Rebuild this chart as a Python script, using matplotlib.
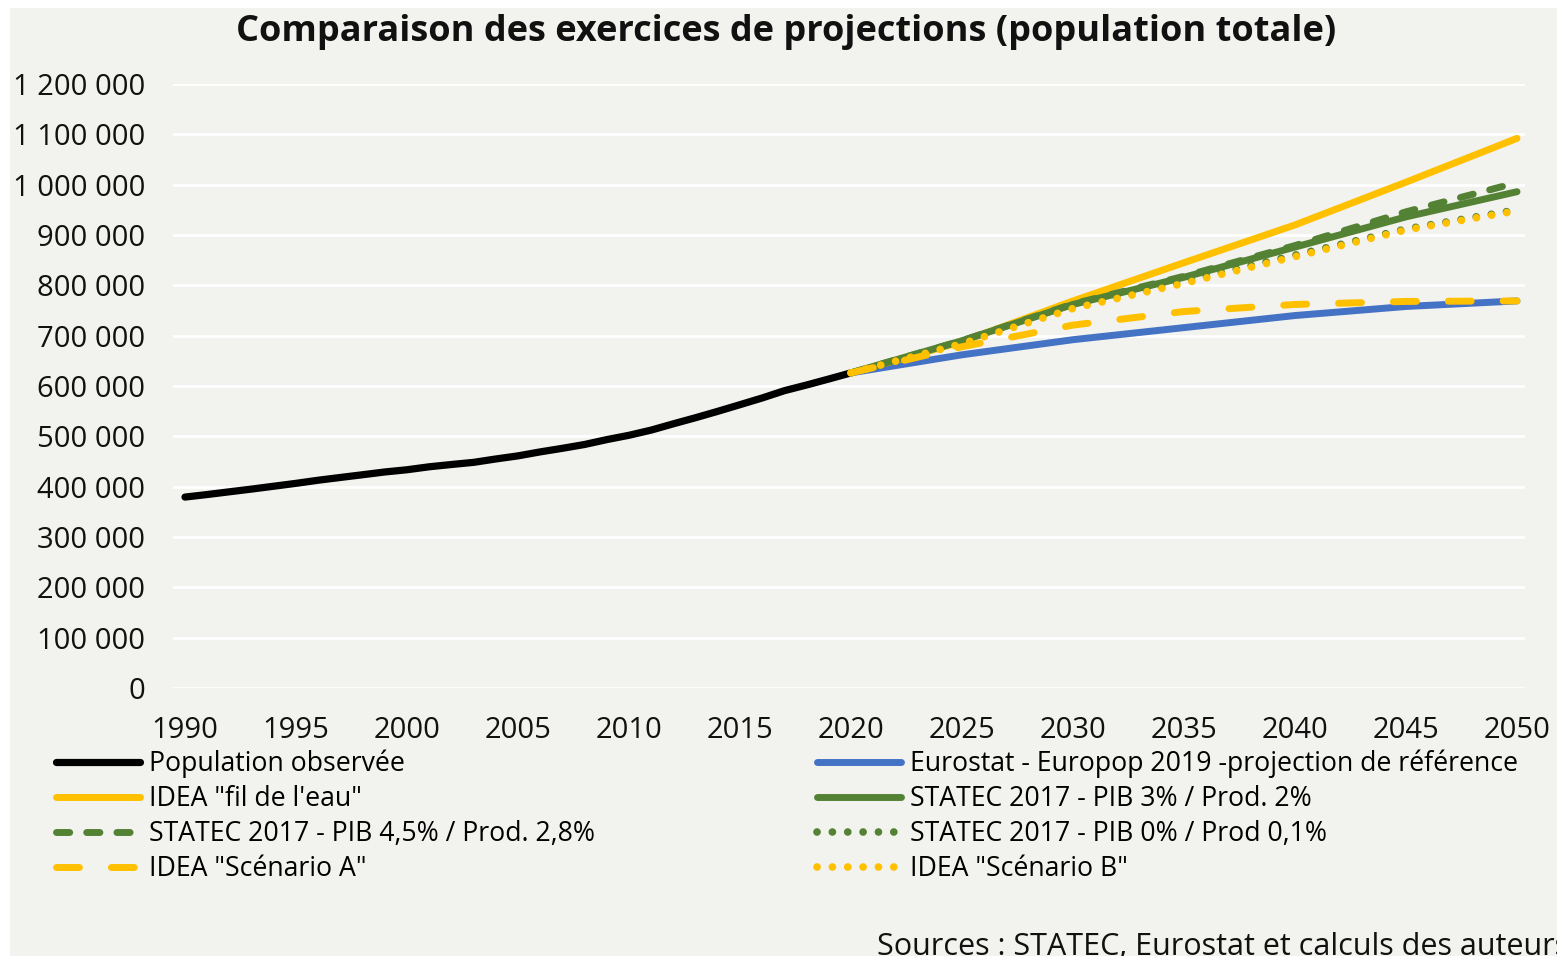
import matplotlib
matplotlib.use("Agg")
import matplotlib.pyplot as plt
from matplotlib.patches import Rectangle
from matplotlib.ticker import FuncFormatter, FixedLocator

# ---------------- data ----------------
obs_years = list(range(1990, 2021))
obs_pop = [379300, 384400, 389800, 395200, 400900, 406600, 412800, 418300,
           423700, 429200, 433600, 439500, 444050, 448300, 455000, 461200,
           469100, 476200, 483800, 493500, 502100, 512400, 524900, 537000,
           549700, 562900, 576200, 590700, 602000, 613900, 626100]

proj_years = [2020, 2025, 2030, 2035, 2040, 2045, 2050]
eurostat = [626100, 662000, 692000, 716000, 740000, 758000, 769000]
idea_fil = [626100, 688000, 769000, 845000, 920000, 1005000, 1092000]
statec_3 = [626100, 690000, 762000, 816000, 876000, 936000, 986000]
statec_45 = [626100, 690000, 763000, 818000, 879000, 946000, 1004000]
statec_0 = [626100, 686000, 757000, 808000, 860000, 912000, 950000]
idea_a = [626100, 678000, 721000, 748000, 762000, 768000, 769000]
idea_b = [626100, 684000, 754000, 804000, 857000, 910000, 948000]

labels = ["Population observée",
          "Eurostat - Europop 2019 -projection de référence",
          "IDEA \"fil de l'eau\"",
          "STATEC 2017 - PIB 3% / Prod. 2%",
          "STATEC 2017 - PIB 4,5% / Prod. 2,8%",
          "STATEC 2017 - PIB 0% / Prod 0,1%",
          "IDEA \"Scénario A\"",
          "IDEA \"Scénario B\""]
title = "Comparaison des exercices de projections (population totale)"
source = "Sources : STATEC, Eurostat et calculs des auteurs"

# ---------------- style ----------------
FONT = "Open Sans"
FS_TICK = 21
FS_LEG = 19.2
FS_TITLE = 26
FS_SRC = 22
plt.rcParams["font.family"] = [FONT, "DejaVu Sans"]

BG = "#F2F2EE"
BLACK = "#000000"
YELLOW = "#FFC000"
BLUE = "#4472C4"
GREEN = "#548235"
LW = 5.0

W, H = 1557, 956
fig = plt.figure(figsize=(W / 100, H / 100), dpi=100, facecolor="white")
fig.patches.append(Rectangle((10 / W, 0), 1 - 10 / W, 1 - 8 / H,
                             transform=fig.transFigure, facecolor=BG,
                             edgecolor="none", zorder=-10))

ax = fig.add_axes([173 / W, 1 - 688 / H, (1525 - 173) / W, (688 - 84) / H])
ax.patch.set_alpha(0)
ax.set_xlim(1989.46, 2050.36)
ax.set_ylim(0, 1200000)
for s in ax.spines.values():
    s.set_visible(False)
ax.yaxis.set_major_locator(FixedLocator(range(0, 1200001, 100000)))
ax.xaxis.set_major_locator(FixedLocator(range(1990, 2051, 5)))
ax.yaxis.set_major_formatter(FuncFormatter(lambda v, p: f"{int(v):,}".replace(",", " ")))
ax.tick_params(axis="both", length=0, labelsize=FS_TICK, labelcolor="#111111")
ax.tick_params(axis="y", pad=20)
ax.tick_params(axis="x", pad=20.5)
ax.grid(axis="y", color="white", lw=2.0, zorder=0)
ax.set_axisbelow(True)

common = dict(solid_capstyle="round", dash_capstyle="round")
h_obs, = ax.plot(obs_years, obs_pop, color=BLACK, lw=5.2, **common)
h_eu, = ax.plot(proj_years, eurostat, color=BLUE, lw=LW, **common)
h_fil, = ax.plot(proj_years, idea_fil, color=YELLOW, lw=LW, **common)
h_s3, = ax.plot(proj_years, statec_3, color=GREEN, lw=LW, **common)
h_s45, = ax.plot(proj_years, statec_45, color=GREEN, lw=LW, dashes=(1.9, 2.45), **common)
h_s0, = ax.plot(proj_years, statec_0, color=GREEN, lw=5.5, dashes=(0.01, 2.0), **common)
h_a, = ax.plot(proj_years, idea_a, color=YELLOW, lw=LW, dashes=(3.3, 4.6), **common)
h_b, = ax.plot(proj_years, idea_b, color=YELLOW, lw=5.5, dashes=(0.01, 2.0), **common)

fig.text(786 / W, 1 - 32 / H, title, ha="center", va="center",
         fontsize=FS_TITLE, fontweight="bold", color="#111111")

leg_kw = dict(loc="upper left", frameon=False, fontsize=FS_LEG, borderpad=0,
              borderaxespad=0, handlelength=3.15, handletextpad=0.35,
              labelspacing=0.26)
left = [h_obs, h_fil, h_s45, h_a]
right = [h_eu, h_s3, h_s0, h_b]
lab_left = [labels[0], labels[2], labels[4], labels[6]]
lab_right = [labels[1], labels[3], labels[5], labels[7]]
leg1 = fig.legend(left, lab_left, bbox_to_anchor=(55.5 / W, 1 - 750 / H), **leg_kw)
leg2 = fig.legend(right, lab_right, bbox_to_anchor=(816.5 / W, 1 - 750 / H), **leg_kw)

fig.text(877 / W, 1 - 955 / H, source, ha="left", va="baseline",
         fontsize=FS_SRC, color="#111111")

fig.savefig("out.png", dpi=100, facecolor="white")
